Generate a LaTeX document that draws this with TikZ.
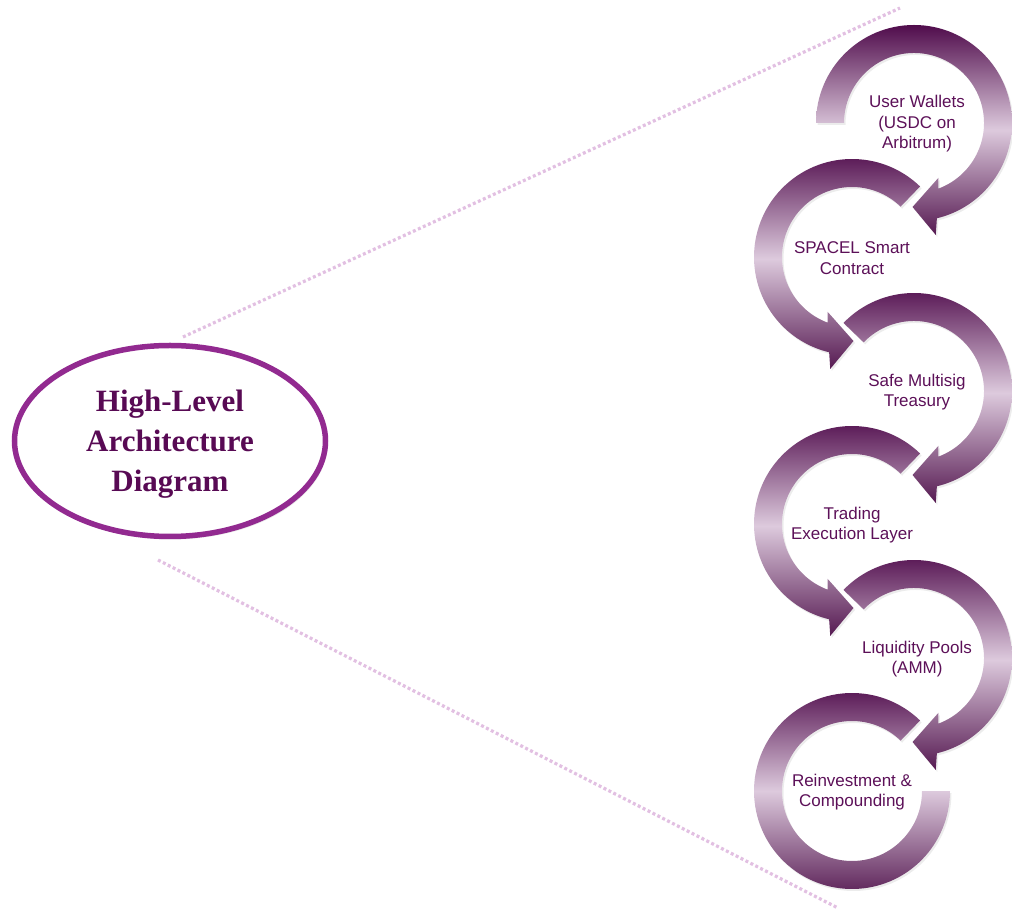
\documentclass[tikz,border=0pt]{standalone}
\usepackage{fontspec}
\setmainfont{Liberation Sans}
\newfontfamily\titlefont{Liberation Serif}
\usetikzlibrary{shapes.geometric,shadows}
\definecolor{ringdark}{RGB}{80,12,76}
\definecolor{ringlight}{RGB}{221,202,221}
\definecolor{ringbot}{RGB}{86,26,82}
\definecolor{labelpurple}{RGB}{92,16,88}
\definecolor{titlepurple}{RGB}{88,10,84}
\definecolor{ellipsestroke}{RGB}{146,42,144}
\definecolor{dotpink}{RGB}{226,192,226}
\tikzset{
  ringarrow/.style={top color=ringdark, bottom color=ringbot, middle color=ringlight,
    drop shadow={shadow xshift=1.5pt, shadow yshift=-2pt, opacity=0.15}},
  ringlabel/.style={text=labelpurple, align=center, font=\fontsize{17}{20.5}\selectfont, inner sep=0pt},
  dotline/.style={draw=dotpink, line width=3.2pt, dash pattern=on 3pt off 2.5pt},
  titlering/.style={ellipse, draw=ellipsestroke, line width=5.5pt, fill=white,
    minimum width=311pt, minimum height=191pt,
    drop shadow={shadow xshift=2pt, shadow yshift=-3pt, opacity=0.18}},
  titletext/.style={align=center, font=\titlefont\bfseries\fontsize{31}{40}\selectfont, inner sep=0pt}
}
\begin{document}
\begin{tikzpicture}[x=1pt,y=1pt]
\useasboundingbox (0,0) rectangle (1012,908);
% dotted guide lines
\coordinate (u0) at (183,571);
\coordinate (u1) at (900,900);
\coordinate (l0) at (158,348);
\coordinate (l1) at (838,0);
\draw[dotline] (u0) -- (u1);
\draw[dotline] (l0) -- (l1);
% title ellipse
\node[titlering] (title) at (170,467) {};
\node[titletext, text=titlepurple] (titlelabel) at (170,464) {High-Level\\Architecture\\Diagram};
% circular arrows
\begin{scope}[shift={(914,785)}]
\path[ringarrow] (180:98) arc[start angle=180,end angle=-76.5,radius=98] -- (-79:114) -- (-91:84) -- (-66:60) -- (-69.6:70) arc[start angle=-69.6,end angle=180,radius=70] -- cycle;
\end{scope}
\begin{scope}[shift={(852,651)}]
\path[ringarrow] (46:98) arc[start angle=46,end angle=256.5,radius=98] -- (259:114) -- (271:84) -- (246:60) -- (249.6:70) arc[start angle=249.6,end angle=46,radius=70] -- cycle;
\end{scope}
\begin{scope}[shift={(914,517)}]
\path[ringarrow] (136:98) arc[start angle=136,end angle=-76.5,radius=98] -- (-79:114) -- (-91:84) -- (-66:60) -- (-69.6:70) arc[start angle=-69.6,end angle=136,radius=70] -- cycle;
\end{scope}
\begin{scope}[shift={(852,384)}]
\path[ringarrow] (46:98) arc[start angle=46,end angle=256.5,radius=98] -- (259:114) -- (271:84) -- (246:60) -- (249.6:70) arc[start angle=249.6,end angle=46,radius=70] -- cycle;
\end{scope}
\begin{scope}[shift={(914,250)}]
\path[ringarrow] (136:98) arc[start angle=136,end angle=-76.5,radius=98] -- (-79:114) -- (-91:84) -- (-66:60) -- (-69.6:70) arc[start angle=-69.6,end angle=136,radius=70] -- cycle;
\end{scope}
\begin{scope}[shift={(852,117)}]
\path[ringarrow] (46:98) arc[start angle=46,end angle=360,radius=98] -- (0:70) arc[start angle=360,end angle=46,radius=70] -- cycle;
\end{scope}
% labels
\node[ringlabel] (w1) at (917,784) {User Wallets\\(USDC on\\Arbitrum)};
\node[ringlabel] (w2) at (852,650) {SPACEL Smart\\Contract};
\node[ringlabel] (w3) at (917,516) {Safe Multisig\\Treasury};
\node[ringlabel] (w4) at (852,383) {Trading\\Execution Layer};
\node[ringlabel] (w5) at (917,249) {Liquidity Pools\\(AMM)};
\node[ringlabel] (w6) at (852,116) {Reinvestment \&\\Compounding};
\end{tikzpicture}
\end{document}
